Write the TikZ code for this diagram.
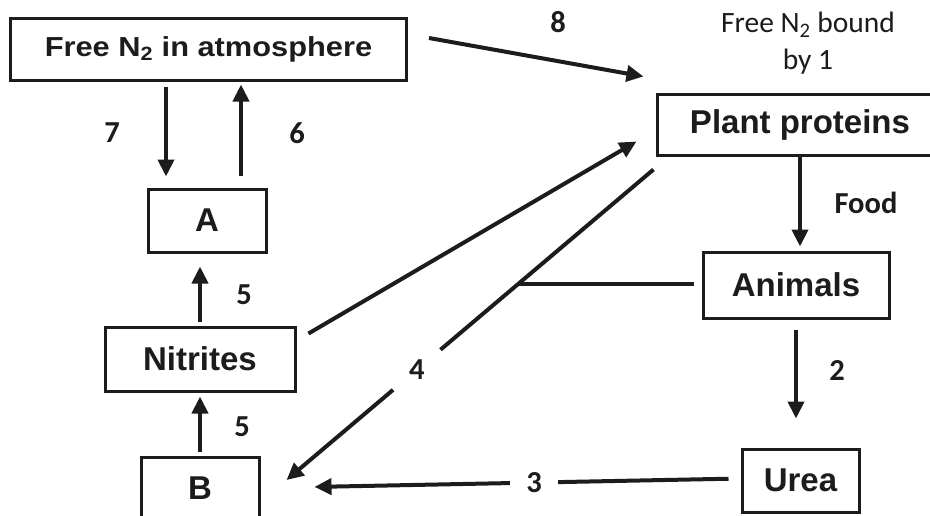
\documentclass[tikz,border=0pt]{standalone}
\usepackage{fontspec}
\setmainfont{Liberation Sans}
\newfontfamily\calib{Carlito}
\usetikzlibrary{arrows.meta,calc}
\definecolor{ink}{HTML}{1C1C1C}

\begin{document}
\begin{tikzpicture}[x=1pt,y=-1pt,>={Triangle[length=17pt,width=16pt]},
  box/.style={draw=ink,line width=3pt,inner sep=0pt,text=ink,
    font=\bfseries\fontsize{33}{38}\selectfont},
  arr/.style={draw=ink,line width=4pt,->},
  num/.style={text=ink,font=\calib\bfseries\fontsize{30.5}{36}\selectfont}]
\clip (0,0) rectangle (930,515);
\fill[white] (0,0) rectangle (930,515);

% boxes
\node[box,minimum width=396pt,minimum height=62pt,
  font=\bfseries\fontsize{27.5}{32}\selectfont\addfontfeature{FakeStretch=1.12}] (atm) at (208.5,49) {Free N\textsubscript{2} in atmosphere};
\node[box,minimum width=286pt,minimum height=61pt] (plant) at (800,124.5) {Plant proteins};
\node[box,minimum width=118pt,minimum height=63pt] (A) at (207,220.5) {A};
\node[box,minimum width=190pt,minimum height=64pt] (nitr) at (200,359) {Nitrites};
\node[box,minimum width=118pt,minimum height=62pt] (B) at (200,488) {B};
\node[box,minimum width=186pt,minimum height=66pt] (anim) at (796,285) {Animals};
\node[box,minimum width=117pt,minimum height=63pt] (urea) at (800.5,480.5) {Urea};

% arrows
\draw[arr,shorten <=5pt,shorten >=11pt] (atm.south -| 166,0) -- (A.north -| 166,0);
\draw[arr,shorten <=12pt,shorten >=3pt] (A.north -| 241,0) -- (atm.south -| 241,0);
\draw[arr] ([xshift=21pt,yshift=11pt]atm.east) -- ([xshift=-12pt,yshift=16pt]plant.north west);
\draw[arr] ([xshift=12pt,yshift=-8pt]nitr.north east) -- ([xshift=-19pt,yshift=15pt]plant.south west);
\draw[arr] ([xshift=-2pt,yshift=-13pt]plant.south west) --
  node[pos=0.645,circle,fill=white,inner sep=0pt,minimum size=62pt,num] (l4) {4}
  coordinate[pos=0.37] (join) ([xshift=26pt,yshift=8pt]B.east);
\draw[ink,line width=4pt,shorten <=8pt] (join -| anim.west) -- (join);
\draw[arr,shorten >=4pt] (plant.south) -- (plant.south |- anim.north);
\draw[arr,shorten <=10pt,shorten >=29pt] (anim.south) -- (anim.south |- urea.north);
\draw[arr,shorten <=12pt,shorten >=54pt] ([yshift=2pt]urea.west) --
  node[pos=0.43,fill=white,inner sep=0pt,minimum width=48pt,minimum height=20pt,num] (l3) {3} (B.east);
\draw[arr,shorten <=4pt,shorten >=13pt] (nitr.north) -- (nitr.north |- A.south);
\draw[arr,shorten <=4pt,shorten >=4pt] (B.north) -- (B.north |- nitr.south);

% labels
\node[num] (l7) at (112,133) {7};
\node[num] (l6) at (297,133) {6};
\node[num] (l8) at (558,22) {8};
\node[num] (l5a) at (244,295) {5};
\node[num] (l5b) at (242,427) {5};
\node[num] (l2) at (837,370) {2};
\node[num] (food) at (866,203) {Food};
\node[text=ink,align=center,font=\calib\fontsize{29.5}{37}\selectfont] (bound) at (808,43) {Free N\textsubscript{2} bound\\by 1};
\end{tikzpicture}
\end{document}
